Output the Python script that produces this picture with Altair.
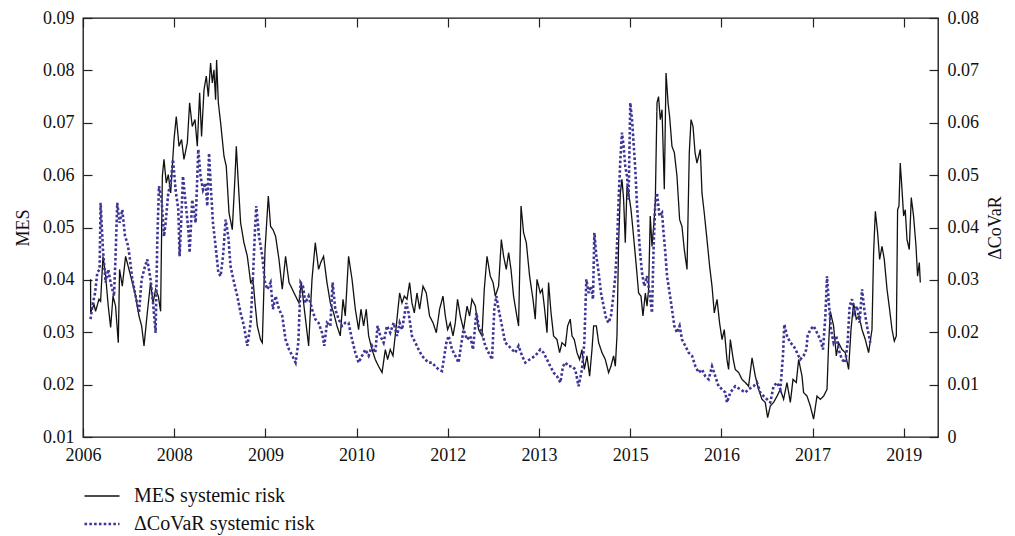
import json
import altair as alt
import pandas as pd

# ---------------- data ----------------
# x position is measured in "tick steps": 0 = first tick (2006), 1 = second tick (2008), ...
X_TICK_LABELS = ["2006", "2008", "2009", "2010", "2012", "2013", "2015", "2016", "2017", "2019"]
X_MAX = 9.375

mes_pos = [0.083, 0.084, 0.121, 0.138, 0.175, 0.193, 0.219, 0.248, 0.277, 0.303, 0.329, 0.357, 0.387, 0.401,
           0.431, 0.467, 0.504, 0.541, 0.577, 0.614, 0.643, 0.669, 0.705, 0.741, 0.768, 0.796, 0.826, 0.851,
           0.870, 0.888, 0.913, 0.935, 0.961, 0.998, 1.023, 1.053, 1.081, 1.107, 1.144, 1.169, 1.198, 1.228,
           1.253, 1.279, 1.300, 1.327, 1.352, 1.374, 1.399, 1.418, 1.436, 1.454, 1.465, 1.484, 1.509, 1.546,
           1.571, 1.601, 1.637, 1.667, 1.681, 1.703, 1.728, 1.765, 1.802, 1.838, 1.864, 1.886, 1.911, 1.947,
           1.966, 1.996, 2.032, 2.057, 2.083, 2.112, 2.149, 2.185, 2.221, 2.259, 2.295, 2.331, 2.368, 2.394,
           2.427, 2.474, 2.511, 2.547, 2.583, 2.607, 2.638, 2.675, 2.712, 2.748, 2.785, 2.821, 2.851, 2.876,
           2.912, 2.950, 2.986, 3.022, 3.048, 3.077, 3.106, 3.132, 3.169, 3.205, 3.241, 3.279, 3.315, 3.340,
           3.369, 3.399, 3.435, 3.472, 3.498, 3.523, 3.553, 3.581, 3.607, 3.633, 3.662, 3.691, 3.728, 3.764,
           3.800, 3.838, 3.874, 3.910, 3.947, 3.973, 3.998, 4.027, 4.057, 4.082, 4.107, 4.137, 4.173, 4.211,
           4.239, 4.265, 4.302, 4.338, 4.375, 4.400, 4.430, 4.466, 4.496, 4.521, 4.557, 4.587, 4.612, 4.641,
           4.667, 4.693, 4.721, 4.751, 4.776, 4.803, 4.831, 4.861, 4.897, 4.934, 4.959, 4.978, 5.014, 5.036,
           5.058, 5.088, 5.105, 5.132, 5.160, 5.197, 5.226, 5.252, 5.289, 5.314, 5.343, 5.362, 5.387, 5.417,
           5.445, 5.471, 5.497, 5.526, 5.555, 5.581, 5.599, 5.629, 5.654, 5.691, 5.727, 5.763, 5.789, 5.818,
           5.837, 5.855, 5.873, 5.892, 5.910, 5.928, 5.946, 5.965, 5.982, 6.009, 6.037, 6.067, 6.092, 6.118,
           6.140, 6.166, 6.184, 6.202, 6.220, 6.239, 6.257, 6.275, 6.294, 6.311, 6.330, 6.349, 6.374, 6.393,
           6.415, 6.432, 6.458, 6.484, 6.513, 6.542, 6.568, 6.593, 6.623, 6.648, 6.667, 6.689, 6.711, 6.732,
           6.769, 6.787, 6.812, 6.842, 6.871, 6.897, 6.922, 6.952, 6.980, 7.007, 7.032, 7.061, 7.079, 7.098,
           7.130, 7.152, 7.189, 7.226, 7.262, 7.298, 7.336, 7.372, 7.408, 7.445, 7.481, 7.507, 7.536, 7.572,
           7.610, 7.646, 7.682, 7.719, 7.756, 7.785, 7.821, 7.847, 7.884, 7.901, 7.939, 7.975, 8.011, 8.048,
           8.085, 8.121, 8.158, 8.175, 8.194, 8.230, 8.260, 8.285, 8.322, 8.358, 8.395, 8.421, 8.450, 8.479,
           8.509, 8.542, 8.578, 8.614, 8.651, 8.669, 8.688, 8.713, 8.735, 8.761, 8.786, 8.816, 8.844, 8.871,
           8.896, 8.918, 8.932, 8.947, 8.961, 8.980, 8.998, 9.016, 9.035, 9.060, 9.082, 9.107, 9.134, 9.151,
           9.170, 9.181]
mes_val = [0.0401, 0.0338, 0.0353, 0.0340, 0.0363, 0.0359, 0.0445, 0.0407, 0.0350, 0.0309, 0.0369, 0.0350,
           0.0280, 0.0420, 0.0388, 0.0445, 0.0420, 0.0395, 0.0369, 0.0331, 0.0312, 0.0274, 0.0337, 0.0395,
           0.0356, 0.0382, 0.0369, 0.0340, 0.0598, 0.0630, 0.0585, 0.0601, 0.0566, 0.0668, 0.0712, 0.0655,
           0.0668, 0.0630, 0.0662, 0.0738, 0.0693, 0.0706, 0.0655, 0.0757, 0.0674, 0.0763, 0.0789, 0.0750,
           0.0814, 0.0776, 0.0801, 0.0744, 0.0820, 0.0738, 0.0700, 0.0636, 0.0617, 0.0528, 0.0496, 0.0598,
           0.0655, 0.0585, 0.0509, 0.0471, 0.0445, 0.0395, 0.0401, 0.0356, 0.0312, 0.0286, 0.0280, 0.0458,
           0.0560, 0.0502, 0.0496, 0.0483, 0.0439, 0.0382, 0.0445, 0.0395, 0.0382, 0.0369, 0.0356, 0.0395,
           0.0344, 0.0274, 0.0401, 0.0471, 0.0420, 0.0433, 0.0445, 0.0395, 0.0356, 0.0337, 0.0312, 0.0293,
           0.0363, 0.0331, 0.0445, 0.0401, 0.0344, 0.0305, 0.0344, 0.0312, 0.0344, 0.0293, 0.0267, 0.0248,
           0.0235, 0.0223, 0.0267, 0.0248, 0.0267, 0.0255, 0.0312, 0.0375, 0.0356, 0.0369, 0.0363, 0.0395,
           0.0356, 0.0337, 0.0375, 0.0344, 0.0388, 0.0375, 0.0331, 0.0318, 0.0299, 0.0344, 0.0369, 0.0331,
           0.0305, 0.0318, 0.0293, 0.0318, 0.0363, 0.0331, 0.0305, 0.0350, 0.0331, 0.0363, 0.0350, 0.0305,
           0.0293, 0.0382, 0.0445, 0.0407, 0.0395, 0.0369, 0.0388, 0.0477, 0.0445, 0.0420, 0.0452, 0.0420,
           0.0369, 0.0337, 0.0312, 0.0541, 0.0490, 0.0471, 0.0407, 0.0363, 0.0325, 0.0401, 0.0375, 0.0382,
           0.0350, 0.0299, 0.0395, 0.0337, 0.0293, 0.0286, 0.0261, 0.0280, 0.0274, 0.0312, 0.0325, 0.0293,
           0.0286, 0.0261, 0.0248, 0.0267, 0.0229, 0.0255, 0.0216, 0.0267, 0.0312, 0.0312, 0.0280, 0.0261,
           0.0248, 0.0223, 0.0235, 0.0255, 0.0235, 0.0293, 0.0471, 0.0566, 0.0592, 0.0553, 0.0471, 0.0579,
           0.0566, 0.0534, 0.0483, 0.0426, 0.0375, 0.0369, 0.0331, 0.0375, 0.0350, 0.0382, 0.0522, 0.0464,
           0.0502, 0.0547, 0.0738, 0.0750, 0.0706, 0.0725, 0.0573, 0.0795, 0.0738, 0.0712, 0.0655, 0.0643,
           0.0598, 0.0515, 0.0502, 0.0458, 0.0420, 0.0643, 0.0706, 0.0693, 0.0643, 0.0623, 0.0649, 0.0566,
           0.0528, 0.0477, 0.0426, 0.0388, 0.0337, 0.0363, 0.0318, 0.0286, 0.0305, 0.0248, 0.0229, 0.0286,
           0.0248, 0.0229, 0.0223, 0.0210, 0.0204, 0.0197, 0.0251, 0.0216, 0.0191, 0.0172, 0.0166, 0.0137,
           0.0159, 0.0166, 0.0178, 0.0191, 0.0172, 0.0204, 0.0166, 0.0210, 0.0204, 0.0248, 0.0216, 0.0185,
           0.0178, 0.0159, 0.0134, 0.0178, 0.0172, 0.0178, 0.0191, 0.0274, 0.0340, 0.0312, 0.0255, 0.0280,
           0.0267, 0.0261, 0.0229, 0.0305, 0.0356, 0.0325, 0.0331, 0.0305, 0.0286, 0.0261, 0.0305, 0.0452,
           0.0531, 0.0490, 0.0439, 0.0464, 0.0439, 0.0382, 0.0344, 0.0305, 0.0283, 0.0293, 0.0534, 0.0541,
           0.0623, 0.0573, 0.0522, 0.0534, 0.0477, 0.0458, 0.0557, 0.0522, 0.0464, 0.0407, 0.0433, 0.0395]

covar_pos = [0.083, 0.102, 0.132, 0.157, 0.182, 0.193, 0.219, 0.248, 0.277, 0.303, 0.340, 0.357, 0.376, 0.401,
             0.431, 0.461, 0.486, 0.511, 0.541, 0.577, 0.614, 0.643, 0.680, 0.705, 0.741, 0.768, 0.796, 0.815,
             0.833, 0.862, 0.888, 0.906, 0.935, 0.961, 0.987, 1.015, 1.045, 1.059, 1.081, 1.096, 1.125, 1.155,
             1.169, 1.198, 1.235, 1.264, 1.289, 1.316, 1.344, 1.363, 1.382, 1.399, 1.425, 1.454, 1.484, 1.509,
             1.535, 1.564, 1.593, 1.618, 1.656, 1.692, 1.728, 1.765, 1.802, 1.838, 1.864, 1.886, 1.900, 1.930,
             1.966, 1.996, 2.021, 2.057, 2.083, 2.112, 2.149, 2.185, 2.221, 2.259, 2.295, 2.331, 2.361, 2.386,
             2.412, 2.438, 2.474, 2.511, 2.547, 2.583, 2.621, 2.646, 2.675, 2.712, 2.737, 2.766, 2.803, 2.840,
             2.876, 2.912, 2.950, 2.986, 3.022, 3.059, 3.095, 3.132, 3.169, 3.205, 3.230, 3.260, 3.296, 3.333,
             3.369, 3.406, 3.443, 3.472, 3.498, 3.523, 3.545, 3.570, 3.607, 3.644, 3.680, 3.717, 3.753, 3.789,
             3.827, 3.863, 3.899, 3.936, 3.962, 3.984, 4.009, 4.046, 4.082, 4.118, 4.145, 4.173, 4.211, 4.247,
             4.276, 4.313, 4.338, 4.375, 4.411, 4.447, 4.485, 4.510, 4.532, 4.557, 4.594, 4.630, 4.667, 4.704,
             4.740, 4.776, 4.814, 4.850, 4.897, 4.959, 5.014, 5.050, 5.088, 5.124, 5.160, 5.197, 5.234, 5.263,
             5.289, 5.325, 5.362, 5.398, 5.434, 5.471, 5.497, 5.519, 5.544, 5.570, 5.592, 5.607, 5.629, 5.654,
             5.680, 5.708, 5.738, 5.763, 5.789, 5.811, 5.837, 5.855, 5.873, 5.892, 5.910, 5.928, 5.946, 5.965,
             5.982, 6.001, 6.020, 6.037, 6.056, 6.075, 6.103, 6.129, 6.155, 6.184, 6.213, 6.239, 6.257, 6.275,
             6.294, 6.322, 6.349, 6.366, 6.385, 6.404, 6.432, 6.458, 6.484, 6.513, 6.542, 6.568, 6.604, 6.641,
             6.678, 6.715, 6.751, 6.787, 6.823, 6.860, 6.897, 6.933, 6.969, 7.007, 7.043, 7.061, 7.098, 7.152,
             7.207, 7.262, 7.298, 7.353, 7.390, 7.426, 7.463, 7.500, 7.536, 7.572, 7.610, 7.646, 7.675, 7.690,
             7.719, 7.756, 7.792, 7.829, 7.865, 7.901, 7.931, 7.945, 7.975, 8.011, 8.048, 8.085, 8.114, 8.140,
             8.158, 8.175, 8.202, 8.230, 8.260, 8.285, 8.322, 8.358, 8.384, 8.406, 8.432, 8.457, 8.487, 8.515,
             8.542, 8.567, 8.596, 8.633]
covar_val = [0.0225, 0.0250, 0.0275, 0.0314, 0.0320, 0.0447, 0.0358, 0.0295, 0.0320, 0.0295, 0.0269, 0.0345,
             0.0447, 0.0409, 0.0434, 0.0383, 0.0371, 0.0345, 0.0301, 0.0269, 0.0237, 0.0301, 0.0326, 0.0339,
             0.0301, 0.0256, 0.0199, 0.0377, 0.0479, 0.0453, 0.0383, 0.0409, 0.0466, 0.0485, 0.0530, 0.0472,
             0.0434, 0.0345, 0.0428, 0.0498, 0.0447, 0.0396, 0.0352, 0.0453, 0.0409, 0.0549, 0.0498, 0.0472,
             0.0485, 0.0441, 0.0542, 0.0485, 0.0409, 0.0364, 0.0314, 0.0307, 0.0345, 0.0415, 0.0383, 0.0326,
             0.0295, 0.0269, 0.0237, 0.0212, 0.0174, 0.0218, 0.0307, 0.0396, 0.0441, 0.0383, 0.0345, 0.0295,
             0.0282, 0.0295, 0.0244, 0.0269, 0.0244, 0.0231, 0.0186, 0.0167, 0.0155, 0.0142, 0.0180, 0.0295,
             0.0288, 0.0256, 0.0269, 0.0244, 0.0225, 0.0218, 0.0199, 0.0174, 0.0218, 0.0212, 0.0295, 0.0244,
             0.0225, 0.0212, 0.0218, 0.0218, 0.0186, 0.0161, 0.0142, 0.0155, 0.0167, 0.0155, 0.0174, 0.0161,
             0.0212, 0.0193, 0.0180, 0.0212, 0.0199, 0.0218, 0.0193, 0.0218, 0.0205, 0.0231, 0.0256, 0.0237,
             0.0193, 0.0180, 0.0167, 0.0155, 0.0148, 0.0142, 0.0142, 0.0135, 0.0129, 0.0126, 0.0155, 0.0180,
             0.0193, 0.0167, 0.0155, 0.0142, 0.0174, 0.0205, 0.0186, 0.0193, 0.0167, 0.0237, 0.0212, 0.0199,
             0.0174, 0.0161, 0.0148, 0.0244, 0.0269, 0.0244, 0.0212, 0.0180, 0.0174, 0.0167, 0.0161, 0.0174,
             0.0155, 0.0142, 0.0148, 0.0155, 0.0167, 0.0161, 0.0148, 0.0135, 0.0123, 0.0116, 0.0104, 0.0135,
             0.0142, 0.0135, 0.0135, 0.0129, 0.0097, 0.0129, 0.0180, 0.0301, 0.0275, 0.0288, 0.0263, 0.0390,
             0.0345, 0.0314, 0.0275, 0.0250, 0.0225, 0.0218, 0.0231, 0.0263, 0.0307, 0.0364, 0.0453, 0.0530,
             0.0581, 0.0555, 0.0517, 0.0498, 0.0453, 0.0638, 0.0606, 0.0562, 0.0511, 0.0441, 0.0364, 0.0314,
             0.0288, 0.0307, 0.0275, 0.0237, 0.0364, 0.0447, 0.0466, 0.0422, 0.0428, 0.0390, 0.0352, 0.0307,
             0.0275, 0.0244, 0.0212, 0.0199, 0.0212, 0.0186, 0.0174, 0.0161, 0.0155, 0.0135, 0.0123, 0.0129,
             0.0116, 0.0110, 0.0135, 0.0116, 0.0097, 0.0091, 0.0085, 0.0066, 0.0085, 0.0097, 0.0091, 0.0085,
             0.0091, 0.0097, 0.0104, 0.0085, 0.0078, 0.0072, 0.0066, 0.0097, 0.0104, 0.0091, 0.0155, 0.0215,
             0.0193, 0.0180, 0.0174, 0.0161, 0.0148, 0.0155, 0.0167, 0.0193, 0.0205, 0.0212, 0.0199, 0.0186,
             0.0167, 0.0231, 0.0307, 0.0263, 0.0205, 0.0180, 0.0193, 0.0167, 0.0148, 0.0142, 0.0180, 0.0250,
             0.0263, 0.0237, 0.0250, 0.0218, 0.0282, 0.0244, 0.0212, 0.0180]

SERIES = ["MES systemic risk", "\u0394CoVaR systemic risk"]
COLORS = ["#111111", "#3c3796"]
DASHES = [[1, 0], [2.6, 2.2]]
WIDTHS = [1.3, 2.6]

MES_TICKS = [0.01, 0.02, 0.03, 0.04, 0.05, 0.06, 0.07, 0.08, 0.09]
COVAR_TICKS = [0.0, 0.01, 0.02, 0.03, 0.04, 0.05, 0.06, 0.07, 0.08]

FONT = "'Liberation Serif', 'Times New Roman', serif"

mes_df = pd.DataFrame({"pos": mes_pos, "value": mes_val, "series": SERIES[0]})
covar_df = pd.DataFrame({"pos": covar_pos, "value": covar_val, "series": SERIES[1]})

x_scale = alt.Scale(domain=[0, X_MAX], nice=False, zero=False)
label_expr = json.dumps(X_TICK_LABELS) + "[datum.value]"

tick_grid = dict(grid=True, gridDash=[9, 3000], gridColor="#222222", gridWidth=1.2, gridOpacity=1,
                 ticks=False, domain=False, labelFlush=False)

color_enc = alt.Color("series:N", scale=alt.Scale(domain=SERIES, range=COLORS),
                      legend=alt.Legend(title=None))
dash_enc = alt.StrokeDash("series:N", scale=alt.Scale(domain=SERIES, range=DASHES),
                          legend=alt.Legend(title=None))
width_enc = alt.StrokeWidth("series:N", scale=alt.Scale(domain=SERIES, range=WIDTHS),
                            legend=alt.Legend(title=None))

mes_line = alt.Chart(mes_df).mark_line(strokeCap="butt", strokeJoin="miter").encode(
    x=alt.X("pos:Q", scale=x_scale,
            axis=alt.Axis(orient="bottom", values=list(range(10)), labelExpr=label_expr, title=None,
                          labelPadding=9, **tick_grid)),
    y=alt.Y("value:Q", scale=alt.Scale(domain=[0.01, 0.09], nice=False, zero=False),
            axis=alt.Axis(orient="left", values=MES_TICKS, format=".2f", title="MES",
                          labelPadding=9, titlePadding=10, **tick_grid)),
    color=color_enc, strokeDash=dash_enc, strokeWidth=width_enc,
    order="pos:Q",
)

covar_line = alt.Chart(covar_df).mark_line(strokeCap="butt", strokeJoin="miter").encode(
    x=alt.X("pos:Q", scale=x_scale,
            axis=alt.Axis(orient="top", values=list(range(10)), labels=False, title=None, **tick_grid)),
    y=alt.Y("value:Q", scale=alt.Scale(domain=[0.0, 0.08], nice=False, zero=False),
            axis=alt.Axis(orient="right", values=COVAR_TICKS,
                          labelExpr="datum.value == 0 ? '0' : format(datum.value, '.2f')",
                          title="\u0394CoVaR", titleAngle=270, titleBaseline="top",
                          labelPadding=9, titlePadding=8, **tick_grid)),
    color=color_enc, strokeDash=dash_enc, strokeWidth=width_enc,
    order="pos:Q",
)

chart = alt.layer(mes_line, covar_line).resolve_scale(
    y="independent"
).resolve_axis(
    x="independent", y="independent"
).properties(
    width=855, height=419,
    autosize=alt.AutoSizeParams(type="none"),
    padding={"left": 75, "top": 10, "right": 69, "bottom": 100},
).configure_view(
    stroke="#111111", strokeWidth=1.3
).configure_axis(
    labelFont=FONT, labelFontSize=18, labelColor="#111111",
    titleFont=FONT, titleFontSize=18, titleColor="#111111", titleFontWeight="normal",
).configure_legend(
    orient="none", legendX=0, legendY=464, direction="vertical",
    symbolType="stroke", symbolSize=1225, clipHeight=28, rowPadding=0,
    labelFont=FONT, labelFontSize=20, labelColor="#111111", labelOffset=13, labelLimit=400,
    symbolStrokeColor="#111111",
)

chart.save("out.html", embed_options={"renderer": "svg", "actions": False})
